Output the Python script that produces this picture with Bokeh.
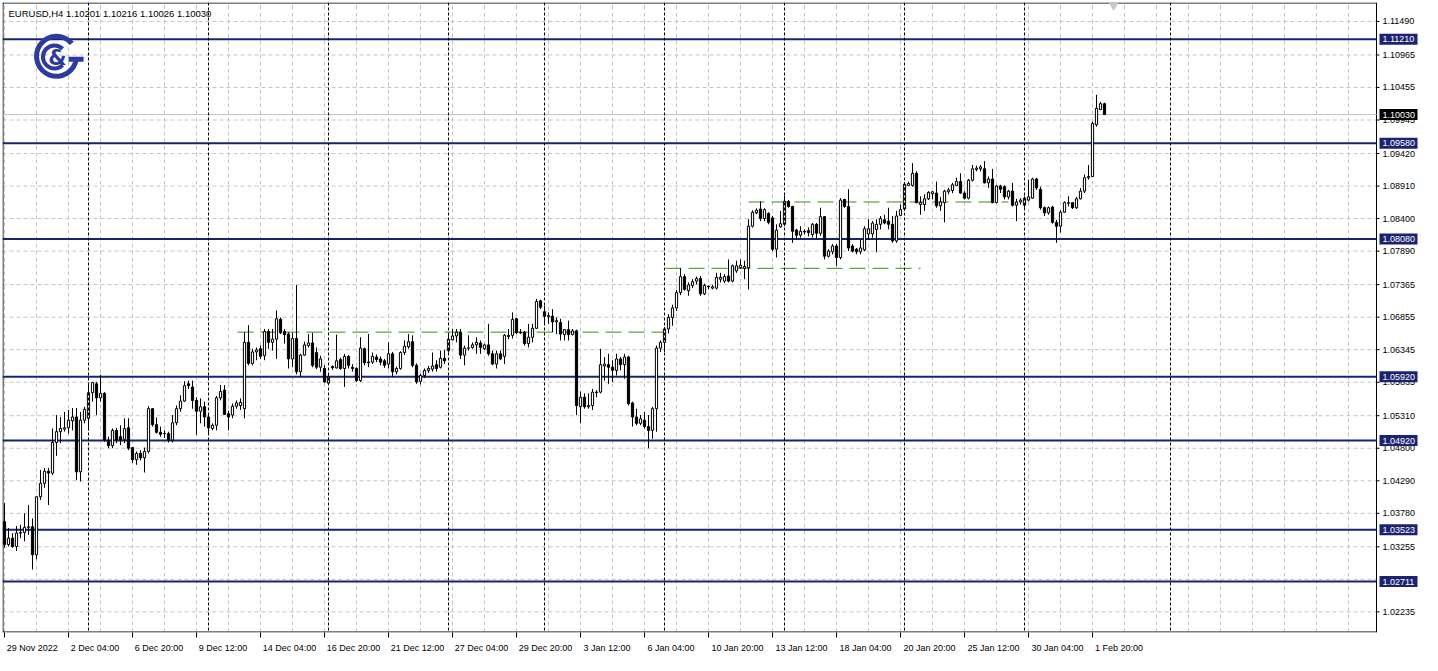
import math
from bokeh.plotting import figure
from bokeh.models import (ColumnDataSource, FixedTicker, Range1d, Label, Span,
                          CustomJSTickFormatter)
from bokeh.embed import file_html
from bokeh.resources import INLINE
from bokeh.core.properties import value

# ---------------- data (EURUSD H4, bar index 0 = 29 Nov 2022 12:00) ----------------
opens = [
1.0365, 1.0329, 1.0339, 1.0326, 1.0347, 1.0348, 1.0356, 1.0357, 1.0313, 1.0404,
1.0425, 1.0444, 1.0441, 1.0489, 1.0506, 1.0510, 1.0512, 1.0523, 1.0529, 1.0443,
1.0524, 1.0527, 1.0567, 1.0581, 1.0559, 1.0566, 1.0493, 1.0484, 1.0508, 1.0498,
1.0494, 1.0512, 1.0481, 1.0462, 1.0472, 1.0465, 1.0475, 1.0542, 1.0517, 1.0505,
1.0503, 1.0503, 1.0493, 1.0520, 1.0542, 1.0554, 1.0581, 1.0576, 1.0555, 1.0538,
1.0545, 1.0529, 1.0511, 1.0516, 1.0559, 1.0571, 1.0534, 1.0532, 1.0546, 1.0547,
1.0542, 1.0646, 1.0613, 1.0631, 1.0636, 1.0625, 1.0663, 1.0646, 1.0651, 1.0682,
1.0663, 1.0659, 1.0620, 1.0652, 1.0600, 1.0626, 1.0641, 1.0645, 1.0630, 1.0607,
1.0605, 1.0582, 1.0608, 1.0606, 1.0619, 1.0605, 1.0624, 1.0607, 1.0605, 1.0586,
1.0636, 1.0615, 1.0615, 1.0623, 1.0620, 1.0617, 1.0612, 1.0628, 1.0600, 1.0605,
1.0630, 1.0639, 1.0647, 1.0610, 1.0585, 1.0594, 1.0602, 1.0604, 1.0611, 1.0607,
1.0621, 1.0633, 1.0650, 1.0656, 1.0662, 1.0626, 1.0637, 1.0638, 1.0642, 1.0645,
1.0636, 1.0642, 1.0628, 1.0612, 1.0628, 1.0624, 1.0655, 1.0657, 1.0683, 1.0662,
1.0662, 1.0644, 1.0654, 1.0668, 1.0711, 1.0694, 1.0686, 1.0687, 1.0678, 1.0677,
1.0658, 1.0666, 1.0658, 1.0664, 1.0545, 1.0560, 1.0545, 1.0547, 1.0567, 1.0568,
1.0609, 1.0611, 1.0607, 1.0602, 1.0620, 1.0611, 1.0623, 1.0551, 1.0529, 1.0519,
1.0524, 1.0514, 1.0508, 1.0542, 1.0637, 1.0646, 1.0667, 1.0685, 1.0700, 1.0724,
1.0749, 1.0727, 1.0735, 1.0742, 1.0746, 1.0722, 1.0734, 1.0731, 1.0731, 1.0745,
1.0742, 1.0750, 1.0742, 1.0758, 1.0763, 1.0762, 1.0763, 1.0828, 1.0849, 1.0855,
1.0840, 1.0848, 1.0841, 1.0792, 1.0827, 1.0831, 1.0867, 1.0859, 1.0822, 1.0814,
1.0820, 1.0821, 1.0815, 1.0831, 1.0817, 1.0843, 1.0781, 1.0788, 1.0797, 1.0779,
1.0870, 1.0859, 1.0797, 1.0792, 1.0788, 1.0791, 1.0816, 1.0816, 1.0823, 1.0831,
1.0838, 1.0836, 1.0831, 1.0805, 1.0845, 1.0855, 1.0892, 1.0892, 1.0911, 1.0862,
1.0862, 1.0871, 1.0879, 1.0880, 1.0860, 1.0865, 1.0882, 1.0884, 1.0892, 1.0898,
1.0880, 1.0872, 1.0900, 1.0917, 1.0918, 1.0918, 1.0896, 1.0902, 1.0865, 1.0891,
1.0890, 1.0874, 1.0883, 1.0861, 1.0866, 1.0861, 1.0869, 1.0872, 1.0902, 1.0886,
1.0857, 1.0849, 1.0858, 1.0834, 1.0828, 1.0850, 1.0864, 1.0865, 1.0857, 1.0871,
1.0883, 1.0904, 1.0906, 1.0987, 1.1011, 1.10201]

highs = [
1.0394, 1.0355, 1.0347, 1.0358, 1.0360, 1.0378, 1.0391, 1.0370, 1.0404, 1.0446,
1.0449, 1.0449, 1.0511, 1.0532, 1.0529, 1.0537, 1.0540, 1.0543, 1.0543, 1.0537,
1.0545, 1.0581, 1.0584, 1.0584, 1.0595, 1.0568, 1.0498, 1.0511, 1.0512, 1.0516,
1.0527, 1.0527, 1.0482, 1.0475, 1.0477, 1.0481, 1.0546, 1.0543, 1.0528, 1.0514,
1.0508, 1.0506, 1.0532, 1.0547, 1.0563, 1.0585, 1.0586, 1.0586, 1.0560, 1.0558,
1.0553, 1.0532, 1.0519, 1.0562, 1.0579, 1.0579, 1.0539, 1.0550, 1.0555, 1.0558,
1.0662, 1.0673, 1.0636, 1.0638, 1.0641, 1.0667, 1.0667, 1.0667, 1.0696, 1.0685,
1.0667, 1.0662, 1.0661, 1.0736, 1.0628, 1.0647, 1.0659, 1.0661, 1.0638, 1.0625,
1.0610, 1.0596, 1.0610, 1.0658, 1.0622, 1.0628, 1.0626, 1.0612, 1.0607, 1.0654,
1.0638, 1.0659, 1.0630, 1.0627, 1.0624, 1.0620, 1.0646, 1.0631, 1.0608, 1.0632,
1.0649, 1.0659, 1.0657, 1.0613, 1.0597, 1.0605, 1.0609, 1.0630, 1.0618, 1.0633,
1.0634, 1.0660, 1.0667, 1.0667, 1.0667, 1.0641, 1.0657, 1.0646, 1.0654, 1.0649,
1.0644, 1.0675, 1.0633, 1.0633, 1.0633, 1.0659, 1.0667, 1.0693, 1.0684, 1.0667,
1.0664, 1.0675, 1.0675, 1.0714, 1.0713, 1.0703, 1.0693, 1.0698, 1.0685, 1.0683,
1.0667, 1.0680, 1.0667, 1.0666, 1.0569, 1.0566, 1.0566, 1.0573, 1.0571, 1.0636,
1.0623, 1.0628, 1.0618, 1.0628, 1.0623, 1.0628, 1.0625, 1.0553, 1.0542, 1.0532,
1.0537, 1.0532, 1.0545, 1.0641, 1.0649, 1.0670, 1.0690, 1.0705, 1.0728, 1.0762,
1.0753, 1.0740, 1.0745, 1.0749, 1.0750, 1.0738, 1.0735, 1.0736, 1.0755, 1.0755,
1.0753, 1.0776, 1.0768, 1.0774, 1.0776, 1.0774, 1.0839, 1.0853, 1.0856, 1.0867,
1.0856, 1.0850, 1.0844, 1.0831, 1.0852, 1.0876, 1.0869, 1.0860, 1.0824, 1.0828,
1.0823, 1.0826, 1.0833, 1.0833, 1.0857, 1.0844, 1.0792, 1.0800, 1.0800, 1.0872,
1.0871, 1.0886, 1.0800, 1.0794, 1.0807, 1.0828, 1.0839, 1.0836, 1.0839, 1.0844,
1.0846, 1.0857, 1.0844, 1.0852, 1.0862, 1.0897, 1.0898, 1.0927, 1.0914, 1.0875,
1.0878, 1.0883, 1.0883, 1.0898, 1.0874, 1.0885, 1.0888, 1.0896, 1.0904, 1.0911,
1.0883, 1.0902, 1.0924, 1.0923, 1.0924, 1.0930, 1.0906, 1.0918, 1.0893, 1.0893,
1.0892, 1.0885, 1.0896, 1.0871, 1.0872, 1.0875, 1.0901, 1.0904, 1.0904, 1.0890,
1.0859, 1.0859, 1.0860, 1.0838, 1.0853, 1.0867, 1.0875, 1.0865, 1.0874, 1.0888,
1.0909, 1.0924, 1.0992, 1.1034, 1.1023, 1.10216]

lows = [
1.0324, 1.0326, 1.0324, 1.0319, 1.0339, 1.0334, 1.0344, 1.0290, 1.0306, 1.0399,
1.0418, 1.0391, 1.0438, 1.0468, 1.0488, 1.0506, 1.0503, 1.0508, 1.0430, 1.0428,
1.0519, 1.0508, 1.0553, 1.0532, 1.0553, 1.0490, 1.0480, 1.0480, 1.0488, 1.0485,
1.0488, 1.0477, 1.0457, 1.0454, 1.0461, 1.0442, 1.0472, 1.0514, 1.0503, 1.0498,
1.0496, 1.0489, 1.0489, 1.0516, 1.0537, 1.0553, 1.0573, 1.0542, 1.0501, 1.0519,
1.0514, 1.0501, 1.0508, 1.0508, 1.0555, 1.0532, 1.0508, 1.0527, 1.0542, 1.0540,
1.0527, 1.0610, 1.0610, 1.0618, 1.0620, 1.0618, 1.0636, 1.0633, 1.0620, 1.0659,
1.0644, 1.0605, 1.0607, 1.0596, 1.0592, 1.0625, 1.0638, 1.0607, 1.0604, 1.0600,
1.0582, 1.0580, 1.0603, 1.0605, 1.0603, 1.0576, 1.0605, 1.0600, 1.0584, 1.0584,
1.0610, 1.0607, 1.0612, 1.0615, 1.0610, 1.0606, 1.0605, 1.0592, 1.0596, 1.0603,
1.0626, 1.0636, 1.0607, 1.0581, 1.0580, 1.0590, 1.0598, 1.0600, 1.0600, 1.0605,
1.0612, 1.0630, 1.0649, 1.0646, 1.0620, 1.0610, 1.0633, 1.0636, 1.0628, 1.0628,
1.0634, 1.0625, 1.0610, 1.0605, 1.0618, 1.0612, 1.0651, 1.0652, 1.0659, 1.0659,
1.0641, 1.0638, 1.0646, 1.0667, 1.0698, 1.0675, 1.0675, 1.0662, 1.0659, 1.0649,
1.0649, 1.0649, 1.0657, 1.0532, 1.0519, 1.0542, 1.0542, 1.0540, 1.0560, 1.0566,
1.0586, 1.0581, 1.0584, 1.0594, 1.0602, 1.0589, 1.0547, 1.0514, 1.0516, 1.0516,
1.0511, 1.0480, 1.0495, 1.0506, 1.0631, 1.0631, 1.0660, 1.0672, 1.0695, 1.0720,
1.0727, 1.0719, 1.0731, 1.0737, 1.0719, 1.0720, 1.0729, 1.0729, 1.0729, 1.0740,
1.0739, 1.0740, 1.0740, 1.0755, 1.0761, 1.0745, 1.0729, 1.0826, 1.0847, 1.0836,
1.0836, 1.0831, 1.0789, 1.0779, 1.0826, 1.0828, 1.0857, 1.0802, 1.0807, 1.0810,
1.0815, 1.0812, 1.0810, 1.0807, 1.0813, 1.0776, 1.0779, 1.0784, 1.0766, 1.0776,
1.0857, 1.0789, 1.0787, 1.0784, 1.0784, 1.0789, 1.0807, 1.0810, 1.0787, 1.0823,
1.0831, 1.0823, 1.0802, 1.0802, 1.0844, 1.0852, 1.0891, 1.0890, 1.0864, 1.0846,
1.0852, 1.0869, 1.0870, 1.0857, 1.0852, 1.0834, 1.0878, 1.0880, 1.0891, 1.0879,
1.0870, 1.0870, 1.0898, 1.0914, 1.0914, 1.0895, 1.0888, 1.0864, 1.0864, 1.0880,
1.0870, 1.0870, 1.0859, 1.0836, 1.0862, 1.0857, 1.0867, 1.0871, 1.0885, 1.0854,
1.0844, 1.0846, 1.0832, 1.0802, 1.0818, 1.0849, 1.0859, 1.0855, 1.0855, 1.0870,
1.0880, 1.0901, 1.0905, 1.0984, 1.1010, 1.10026]

closes = [
1.0329, 1.0339, 1.0326, 1.0347, 1.0348, 1.0356, 1.0357, 1.0313, 1.0404, 1.0425,
1.0444, 1.0441, 1.0489, 1.0506, 1.0511, 1.0512, 1.0524, 1.0529, 1.0443, 1.0524,
1.0541, 1.0567, 1.0583, 1.0559, 1.0566, 1.0493, 1.0484, 1.0508, 1.0493, 1.0493,
1.0511, 1.0480, 1.0462, 1.0472, 1.0465, 1.0475, 1.0542, 1.0517, 1.0505, 1.0502,
1.0503, 1.0493, 1.0520, 1.0542, 1.0554, 1.0578, 1.0578, 1.0555, 1.0538, 1.0545,
1.0529, 1.0512, 1.0516, 1.0559, 1.0569, 1.0533, 1.0529, 1.0546, 1.0551, 1.0552,
1.0646, 1.0613, 1.0631, 1.0634, 1.0624, 1.0663, 1.0646, 1.0651, 1.0683, 1.0661,
1.0658, 1.0620, 1.0652, 1.0600, 1.0626, 1.0642, 1.0645, 1.0610, 1.0607, 1.0620,
1.0584, 1.0592, 1.0606, 1.0617, 1.0605, 1.0624, 1.0610, 1.0605, 1.0586, 1.0637,
1.0614, 1.0614, 1.0624, 1.0619, 1.0615, 1.0610, 1.0628, 1.0600, 1.0605, 1.0630,
1.0640, 1.0647, 1.0610, 1.0584, 1.0594, 1.0602, 1.0605, 1.0609, 1.0605, 1.0621,
1.0617, 1.0651, 1.0656, 1.0662, 1.0626, 1.0637, 1.0637, 1.0642, 1.0646, 1.0638,
1.0642, 1.0628, 1.0612, 1.0628, 1.0620, 1.0657, 1.0657, 1.0682, 1.0661, 1.0661,
1.0644, 1.0654, 1.0668, 1.0710, 1.0701, 1.0687, 1.0688, 1.0678, 1.0680, 1.0659,
1.0666, 1.0658, 1.0664, 1.0547, 1.0560, 1.0545, 1.0547, 1.0568, 1.0568, 1.0611,
1.0612, 1.0607, 1.0602, 1.0620, 1.0611, 1.0623, 1.0550, 1.0529, 1.0519, 1.0526,
1.0514, 1.0508, 1.0542, 1.0637, 1.0646, 1.0667, 1.0685, 1.0700, 1.0724, 1.0749,
1.0729, 1.0736, 1.0741, 1.0746, 1.0722, 1.0735, 1.0733, 1.0733, 1.0748, 1.0748,
1.0749, 1.0742, 1.0766, 1.0766, 1.0767, 1.0765, 1.0828, 1.0850, 1.0853, 1.0840,
1.0854, 1.0834, 1.0792, 1.0822, 1.0832, 1.0867, 1.0859, 1.0820, 1.0814, 1.0820,
1.0819, 1.0818, 1.0831, 1.0817, 1.0843, 1.0781, 1.0789, 1.0797, 1.0779, 1.0869,
1.0859, 1.0794, 1.0789, 1.0788, 1.0794, 1.0824, 1.0824, 1.0833, 1.0831, 1.0840,
1.0833, 1.0831, 1.0805, 1.0844, 1.0854, 1.0894, 1.0895, 1.0911, 1.0865, 1.0865,
1.0871, 1.0881, 1.0882, 1.0860, 1.0866, 1.0883, 1.0885, 1.0893, 1.0898, 1.0880,
1.0872, 1.0900, 1.0918, 1.0919, 1.0921, 1.0896, 1.0902, 1.0865, 1.0891, 1.0886,
1.0874, 1.0883, 1.0861, 1.0866, 1.0869, 1.0872, 1.0874, 1.0902, 1.0888, 1.0857,
1.0849, 1.0857, 1.0834, 1.0828, 1.0850, 1.0865, 1.0865, 1.0857, 1.0871, 1.0883,
1.0904, 1.0906, 1.0989, 1.1013, 1.1020, 1.10030]

date_labels = ["29 Nov 2022", "2 Dec 04:00", "6 Dec 20:00", "9 Dec 12:00", "14 Dec 04:00",
               "16 Dec 20:00", "21 Dec 12:00", "27 Dec 04:00", "29 Dec 20:00", "3 Jan 12:00",
               "6 Jan 04:00", "10 Jan 20:00", "13 Jan 12:00", "18 Jan 04:00", "20 Jan 20:00",
               "25 Jan 12:00", "30 Jan 04:00", "1 Feb 20:00"]
date_label_bars = [0, 16, 32, 48, 64, 80, 96, 112, 128, 144, 160, 176, 192, 208, 224, 240, 256, 272]
week_start_bars = [21, 51, 81, 111, 135, 165, 195, 225, 255, 291.5]
grid_bars = list(range(0, 344, 8))

price_ticks = [1.11490, 1.10965, 1.10455, 1.09945, 1.09420, 1.08910, 1.08400, 1.07890, 1.07365,
               1.06855, 1.06345, 1.05835, 1.05310, 1.04800, 1.04290, 1.03780, 1.03255, 1.02745,
               1.02235, 1.01725]
levels = [1.11210, 1.09580, 1.08080, 1.05920, 1.04920, 1.03523, 1.02711]

zone_start = [58.25, 165.25, 186.0]
zone_end = [165.25, 229.0, 251.0]
zone_price = [1.0662, 1.0762, 1.0866]

# ---------------- styling / layout ----------------
FONT = "Liberation Sans"
NAVY = "#1b2371"
GRID = "#c4c4c4"
GREEN = "#3c8c14"
LOGO = "#2d3a9e"

W, H = 1422, 655
LEFT, TOP, BOTTOM = 2, 2, 20
PPB = 4.0              # pixels per bar
PPU = 6410.0           # pixels per price unit
frame_w = W - LEFT
frame_h = H - TOP - BOTTOM
X0 = -0.5
X1 = X0 + frame_w / PPB
XA = X0 + (1376 - LEFT) / PPB      # price-scale axis position (in bars)
Y1 = 1.11787
Y0 = Y1 - frame_h / PPU
px = 1.0 / PPB                     # one pixel in bar units
py = 1.0 / PPU                     # one pixel in price units

N = len(opens)
assert len(highs) == N and len(lows) == N and len(closes) == N
idx = list(range(N))
hi = [max(h, o, c) for h, o, c in zip(highs, opens, closes)]
lo = [min(l, o, c) for l, o, c in zip(lows, opens, closes)]
src = ColumnDataSource(dict(
    x=idx, o=opens, h=hi, l=lo, c=closes,
    top=[max(o, c) for o, c in zip(opens, closes)],
    bottom=[min(o, c) for o, c in zip(opens, closes)],
    fill=["white" if c >= o else "black" for o, c in zip(opens, closes)],
))

p = figure(width=W, height=H, x_range=Range1d(X0, X1), y_range=Range1d(Y0, Y1),
           output_backend="svg", toolbar_location=None, y_axis_location=None,
           min_border_left=LEFT, min_border_right=0, min_border_top=TOP,
           min_border_bottom=BOTTOM)
p.background_fill_color = "white"
p.border_fill_color = "white"
p.outline_line_color = None

# ---- time axis: tick marks at label bars, text to the right of the tick (MT5 style)
char_w = {**{d: 5.0 for d in "0123456789"}, " ": 2.5, ":": 2.5}
def text_w(s):
    return sum(char_w.get(ch, 5.2) for ch in s)
label_centers = [b + (2.5 + text_w(s) / 2) * px for b, s in zip(date_label_bars, date_labels)]

xa = p.xaxis[0]
xa.ticker = FixedTicker(ticks=label_centers, minor_ticks=date_label_bars)
xa.formatter = CustomJSTickFormatter(args=dict(labels=date_labels, centers=label_centers), code="""
    let best = 0, bd = 1e9;
    for (let k = 0; k < centers.length; k++) {
        const d = Math.abs(centers[k] - tick);
        if (d < bd) { bd = d; best = k; }
    }
    return labels[best];
""")
xa.major_tick_line_color = None
xa.major_tick_out = 0
xa.major_tick_in = 0
xa.minor_tick_line_color = "black"
xa.minor_tick_out = 5
xa.minor_tick_in = 0
xa.major_label_standoff = 5
xa.major_label_text_font = FONT
xa.major_label_text_font_size = "9px"
xa.major_label_text_color = "black"
xa.axis_line_color = None

# ---- grid
p.xgrid.ticker = FixedTicker(ticks=grid_bars)
p.xgrid.grid_line_color = GRID
p.xgrid.grid_line_dash = "4 3"
for g in p.ygrid:
    g.grid_line_color = None
p.segment(x0=[X0] * len(price_ticks), y0=price_ticks, x1=[XA] * len(price_ticks), y1=price_ticks,
          line_color=GRID, line_width=1, line_dash="4 3")

# week separators
for wb in week_start_bars:
    p.add_layout(Span(location=wb, dimension="height", line_color="black",
                      line_dash="3 2", line_width=1))

# chart border (left, top, bottom) and price-scale axis line
p.segment(x0=[X0 + 0.5 * px, X0, X0, XA], y0=[Y0, Y1 - 0.5 * py, Y0 + 0.5 * py, Y0],
          x1=[X0 + 0.5 * px, XA, XA, XA], y1=[Y1, Y1 - 0.5 * py, Y0 + 0.5 * py, Y1],
          line_color="black", line_width=1)

# current price line
p.segment(x0=[X0], y0=[closes[-1]], x1=[XA], y1=[closes[-1]], line_color="#c0c0c0", line_width=1)

# horizontal levels
p.segment(x0=[X0] * len(levels), y0=levels, x1=[XA] * len(levels), y1=levels,
          line_color=NAVY, line_width=2)

# zone lines (dashed green)
p.segment(x0=zone_start, y0=zone_price, x1=zone_end, y1=zone_price,
          line_color=GREEN, line_width=1, line_dash="16 7")

# candles
p.segment(x0="x", y0="l", x1="x", y1="h", source=src, line_color="black", line_width=1)
p.vbar(x="x", top="top", bottom="bottom", width=0.55, fill_color="fill",
       line_color="black", line_width=1, source=src)

# chart shift marker
p.scatter(x=[277.3], y=[Y1 - 2.5 * py], marker="inverted_triangle", size=9,
          fill_color="#c8c8c8", line_color="#c8c8c8")

# ---- price scale (ticks, labels, level boxes)
shown_ticks = [t for t in price_ticks if Y0 < t < Y1 and min(abs(t - lv) for lv in levels) > 0.0005]
p.segment(x0=[XA] * len(shown_ticks), y0=shown_ticks, x1=[XA + 3 * px] * len(shown_ticks),
          y1=shown_ticks, line_color="black", line_width=1)
p.text(x=[XA + 6 * px] * len(shown_ticks), y=shown_ticks, text=["%.5f" % t for t in shown_ticks],
       text_font=value(FONT), text_font_size="9px", text_color="black",
       text_align="left", text_baseline="middle")

box_vals = levels + [closes[-1]]
box_cols = [NAVY] * len(levels) + ["black"]
p.rect(x=[XA + 22 * px] * len(box_vals), y=box_vals, width=38, height=11,
       width_units="screen", height_units="screen", fill_color=box_cols, line_color=None)
p.text(x=[XA + 6 * px] * len(box_vals), y=box_vals, text=["%.5f" % v for v in box_vals],
       text_font=value(FONT), text_font_size="9px", text_color="white",
       text_align="left", text_baseline="middle")

# ---- logo
p.annular_wedge(x=[13.0], y=[1.10944], inner_radius=17.5, outer_radius=22.5,
                inner_radius_units="screen", outer_radius_units="screen",
                start_angle=math.radians(40), end_angle=math.radians(355),
                fill_color=LOGO, line_color=None)
p.rect(x=[17.9], y=[1.10898], width=15, height=5, width_units="screen",
       height_units="screen", fill_color=LOGO, line_color=None)
p.annular_wedge(x=[12.5], y=[1.10934], inner_radius=9.5, outer_radius=13.5,
                inner_radius_units="screen", outer_radius_units="screen",
                start_angle=math.radians(45), end_angle=math.radians(315),
                fill_color=LOGO, line_color=None)
p.text(x=[13.2], y=[1.10921], text=["&"], text_font=value("DejaVu Sans"), text_font_size="21px",
       text_font_style="bold", text_align="center", text_baseline="middle", text_color=LOGO)

# ---- title
title = "EURUSD,H4  %.5f %.5f %.5f %.5f" % (opens[-1], highs[-1], lows[-1], closes[-1])
p.add_layout(Label(x=X0, y=Y1, x_offset=6, y_offset=-10.5, text=title, text_font=FONT,
                   text_font_size="9.5px", text_color="black", text_align="left",
                   text_baseline="middle"))

open("out.html", "w").write(file_html(p, INLINE))
